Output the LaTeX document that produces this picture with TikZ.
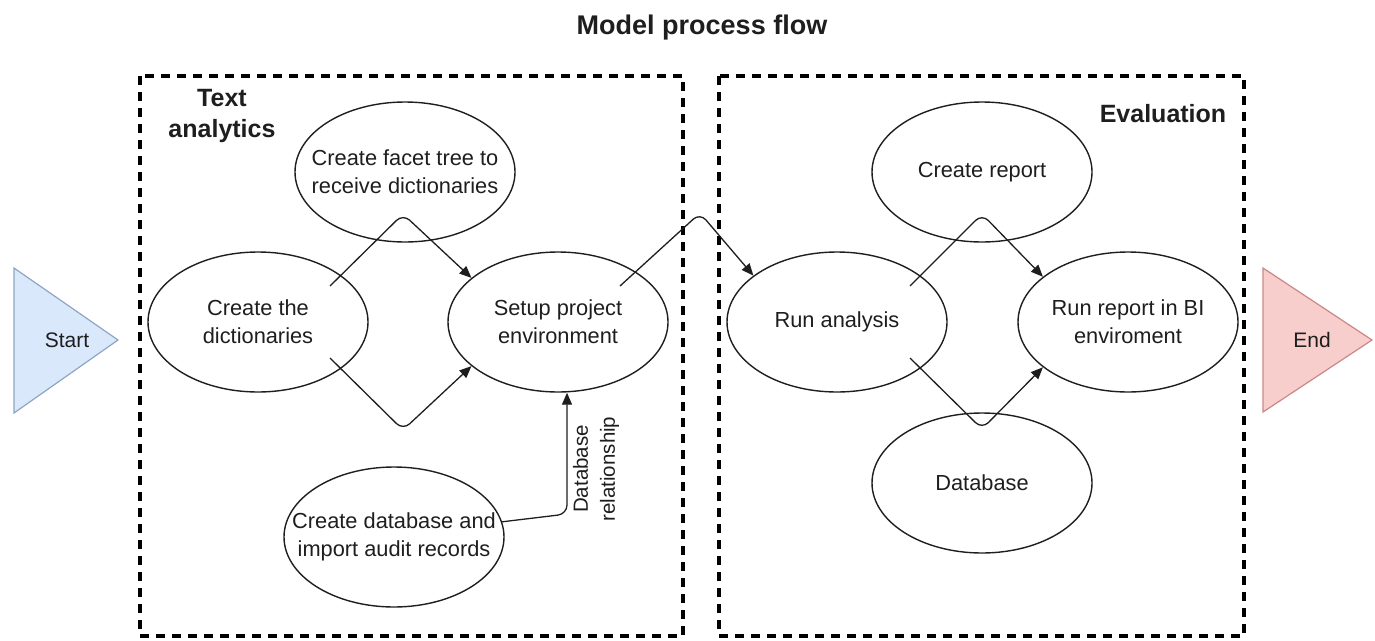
\documentclass[tikz,border=0pt]{standalone}
\usepackage{fontspec}
\setmainfont{Liberation Sans}
\usetikzlibrary{shapes.geometric,arrows.meta,calc}
\definecolor{startfill}{HTML}{DAE8FC}
\definecolor{startdraw}{HTML}{8FA5C4}
\definecolor{endfill}{HTML}{F8CECC}
\definecolor{enddraw}{HTML}{C98886}
\definecolor{ink}{HTML}{1E1E1E}
\newcommand{\zl}[1]{\makebox[0pt][c]{#1}}
\tikzset{
 proc/.style={ellipse, draw=ink, line width=1.4pt, minimum width=220pt, minimum height=140pt, inner sep=0pt, align=center, font=\fontsize{21.8}{28}\selectfont, text=ink},
 container/.style={draw=black, line width=3.2pt, dash pattern=on 9pt off 7pt},
 conn/.style={draw=ink, line width=1.3pt, rounded corners=9pt, -{Triangle[length=12pt,width=10pt]}},
 boldlabel/.style={font=\fontsize{25}{31}\selectfont\bfseries, align=center, text=ink},
 termtext/.style={font=\fontsize{21}{26}\selectfont, text=ink},
 reltext/.style={font=\fontsize{20.5}{27}\selectfont, text=ink, align=center, rotate=90}
}
\begin{document}
\begin{tikzpicture}[x=1pt,y=-1pt]
\useasboundingbox (0,0) rectangle (1375,640);
% title
\node[font=\fontsize{27}{32}\selectfont\bfseries, text=ink] (title) at (702,28) {Model process flow};
% containers
\draw[container] (140,76) rectangle (683,636);
\draw[container] (719,76) rectangle (1244,636);
\node[boldlabel] (ta) at (222,116) {Text\\analytics};
\node[boldlabel] (ev) at (1163,114) {Evaluation};
% start / end
\filldraw[fill=startfill, draw=startdraw, line width=1.2pt] (14,268) -- (118,340) -- (14,413) -- cycle;
\node[termtext] (start) at (67,340) {Start};
\filldraw[fill=endfill, draw=enddraw, line width=1.2pt] (1263,268) -- (1372,340) -- (1263,412) -- cycle;
\node[termtext] (end) at (1312,340) {End};
% ellipses
\node[proc] (facet) at (405,172) {\zl{Create facet tree to}\\\zl{receive dictionaries}};
\node[proc] (dict) at (258,322) {\zl{Create the}\\\zl{dictionaries}};
\node[proc] (setup) at (558,322) {\zl{Setup project}\\\zl{environment}};
\node[proc] (cdb) at (394,537) {\zl{Create database and}\\\zl{import audit records}};
\node[proc] (report) at (982,172) {\zl{Create report}};
\node[proc] (run) at (837,322) {\zl{Run analysis}};
\node[proc] (bi) at (1128,322) {\zl{Run report in BI}\\\zl{enviroment}};
\node[proc] (db) at (982,483) {\zl{Database}};
% waypoints
\coordinate (p1) at (403,214);
\coordinate (p2) at (403,430);
\coordinate (p3) at (700,213);
\coordinate (p4) at (982,214);
\coordinate (p5) at (982,429);
\coordinate (dbc) at (567,514);
% connectors
\draw[conn] ($(dict.center)+(72,-36)$) -- (p1) -- (setup.153);
\draw[conn] ($(dict.center)+(72,36)$) -- (p2) -- (setup.207);
\draw[conn] ($(setup.center)+(62,-36)$) -- (p3) -- (run.151);
\draw[conn] ($(run.center)+(73,-36)$) -- (p4) -- (bi.152);
\draw[conn] ($(run.center)+(73,36)$) -- (p5) -- (bi.208);
\draw[conn] (cdb.8) -- (dbc) -- (dbc |- setup.south);
\node[reltext] (rel) at (596,469) {Database\\relationship};
\end{tikzpicture}
\end{document}
